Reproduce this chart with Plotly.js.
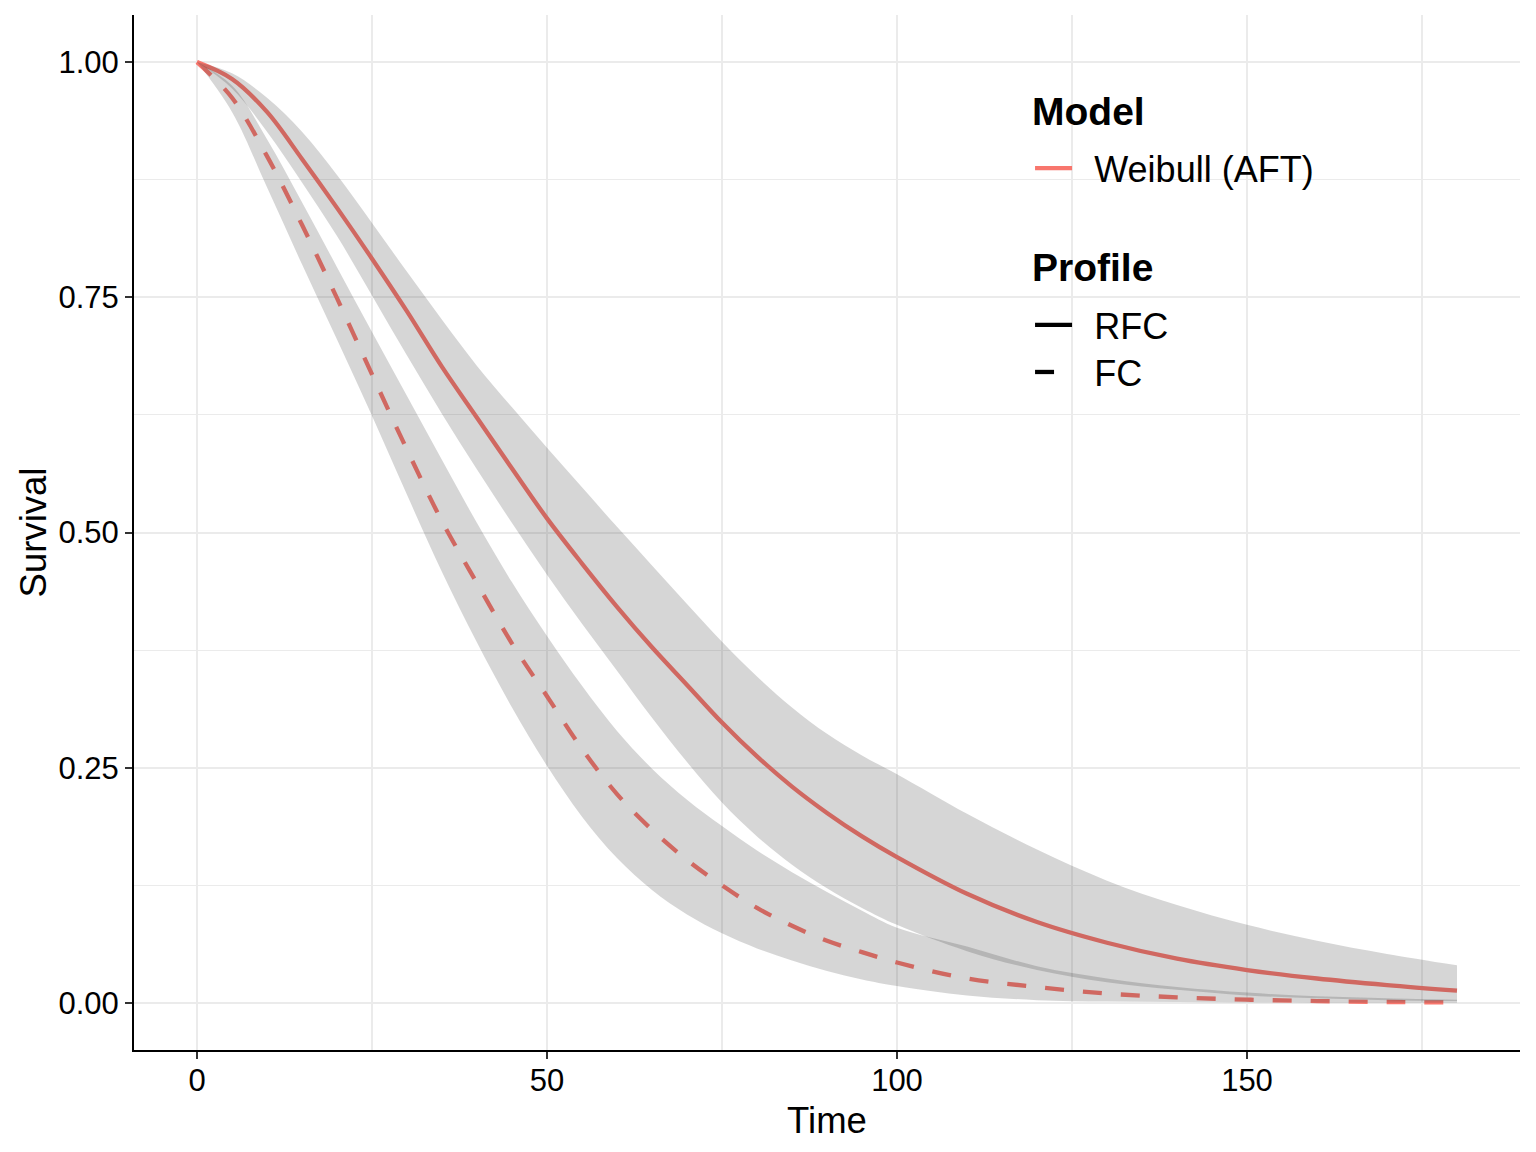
<!DOCTYPE html>
<html>
<head>
<meta charset="utf-8">
<script src="https://cdn.plot.ly/plotly-3.0.1.min.js"></script>
<style>html,body{margin:0;padding:0;background:#fff;}#chart{width:1536px;height:1152px;}</style>
</head>
<body>
<div id="chart"></div>
<script>
// ---- data ----
const time = [0,5,10,15,20,25,30,35,40,45,50,55,60,65,70,75,80,85,90,95,100,110,120,130,140,150,160,170,180];

const rfcSurv  = [1.000,0.982,0.947,0.897,0.845,0.791,0.735,0.676,0.622,0.568,0.515,0.467,0.421,0.378,0.338,0.298,0.262,0.230,0.202,0.177,0.155,0.116,0.086,0.064,0.047,0.035,0.026,0.019,0.013];
const rfcLower = [1.000,0.972,0.926,0.872,0.815,0.752,0.688,0.626,0.567,0.510,0.455,0.403,0.353,0.303,0.256,0.213,0.177,0.147,0.122,0.101,0.083,0.055,0.035,0.022,0.014,0.008,0.005,0.003,0.002];
const rfcUpper = [1.000,0.988,0.962,0.926,0.880,0.829,0.777,0.726,0.677,0.633,0.590,0.548,0.506,0.465,0.424,0.384,0.347,0.314,0.286,0.263,0.243,0.201,0.163,0.130,0.104,0.083,0.066,0.052,0.040];

const fcSurv  = [1.000,0.962,0.900,0.827,0.749,0.668,0.588,0.512,0.446,0.382,0.326,0.270,0.222,0.184,0.152,0.125,0.101,0.082,0.066,0.054,0.043,0.026,0.017,0.010,0.006,0.0035,0.002,0.001,0.0005];
const fcLower = [1.000,0.947,0.867,0.785,0.705,0.624,0.540,0.458,0.383,0.314,0.252,0.198,0.154,0.120,0.094,0.074,0.058,0.045,0.034,0.025,0.018,0.008,0.003,0.0015,0.001,0.0005,0.0003,0.0002,0.0001];
const fcUpper = [1.000,0.975,0.918,0.851,0.782,0.713,0.645,0.577,0.510,0.447,0.390,0.337,0.289,0.249,0.216,0.188,0.162,0.139,0.118,0.098,0.080,0.060,0.039,0.026,0.017,0.011,0.007,0.005,0.0035];

const modelName = "Weibull (AFT)";
const profiles = ["RFC", "FC"];
const legendTitles = ["Model", "Profile"];
const xTicks = [0, 50, 100, 150];
const yTicks = [0, 0.25, 0.5, 0.75, 1];
const yTickText = ["0.00", "0.25", "0.50", "0.75", "1.00"];

// ---- styling ----
const RED = "#F8766D";
const RIBBON = "rgba(51,51,51,0.2)";
const FONT = "Liberation Sans, Arial, Helvetica, sans-serif";
const LW = 4.3;
const DASH = "19px,19px";
const SPL = {shape: "spline", smoothing: 1};
const PAD = "\u00a0\u2009"; // gap between legend key and label

function band(lo, hi) {
  return [
    {x: time, y: lo, mode: "lines", line: Object.assign({width: 0, color: "rgba(0,0,0,0)"}, SPL), showlegend: false, hoverinfo: "skip"},
    {x: time, y: hi, mode: "lines", fill: "tonexty", fillcolor: RIBBON, line: Object.assign({width: 0, color: "rgba(0,0,0,0)"}, SPL), showlegend: false, hoverinfo: "skip"}
  ];
}

const traces = [
  {x: time, y: rfcSurv, mode: "lines", line: Object.assign({color: RED, width: LW}, SPL), showlegend: false, hoverinfo: "skip"},
  {x: time, y: fcSurv, mode: "lines", line: Object.assign({color: RED, width: LW, dash: DASH}, SPL), showlegend: false, hoverinfo: "skip"}
].concat(band(rfcLower, rfcUpper), band(fcLower, fcUpper), [
  // legend entries
  {x: [null], y: [null], mode: "lines", name: PAD + modelName, line: {color: RED, width: LW}, legend: "legend"},
  {x: [null], y: [null], mode: "lines", name: PAD + profiles[0], line: {color: "#000000", width: LW}, legend: "legend2"},
  {x: [null], y: [null], mode: "lines", name: PAD + profiles[1], line: {color: "#000000", width: LW, dash: DASH}, legend: "legend3"}
]);

function legendBox(yPaper) {
  return {
    font: {family: FONT, size: 36, color: "#000000"},
    x: 0.6465, y: yPaper, xanchor: "left", yanchor: "middle",
    bgcolor: "rgba(0,0,0,0)", borderwidth: 0, itemwidth: 37
  };
}

const layout = {
  width: 1536, height: 1152,
  margin: {l: 134, r: 16, t: 15, b: 102},
  paper_bgcolor: "#ffffff", plot_bgcolor: "#ffffff",
  font: {family: FONT, color: "#000000"},
  showlegend: true,
  xaxis: {
    range: [-9, 189],
    tickvals: xTicks, ticktext: xTicks.map(String),
    showgrid: true, gridcolor: "#EBEBEB", gridwidth: 2,
    minor: {dtick: 25, tick0: 0, showgrid: true, gridcolor: "#EBEBEB", gridwidth: 1.2},
    zeroline: false,
    showline: true, linecolor: "#000000", linewidth: 2,
    ticks: "outside", ticklen: 7, tickwidth: 2, tickcolor: "#333333",
    ticklabelstandoff: -5,
    tickfont: {family: FONT, size: 31, color: "#000000"},
    title: {text: "Time", font: {family: FONT, size: 36.5, color: "#000000"}, standoff: 10}
  },
  yaxis: {
    range: [-0.05, 1.05],
    tickvals: yTicks, ticktext: yTickText,
    showgrid: true, gridcolor: "#EBEBEB", gridwidth: 2,
    minor: {dtick: 0.125, tick0: 0, showgrid: true, gridcolor: "#EBEBEB", gridwidth: 1.2},
    zeroline: false,
    showline: true, linecolor: "#000000", linewidth: 2,
    ticks: "outside", ticklen: 7, tickwidth: 2, tickcolor: "#333333",
    tickfont: {family: FONT, size: 31, color: "#000000"},
    title: {text: "Survival", font: {family: FONT, size: 36.5, color: "#000000"}, standoff: 1}
  },
  legend: legendBox(0.852),
  legend2: legendBox(0.7005),
  legend3: legendBox(0.655),
  annotations: [
    {text: "<b>" + legendTitles[0] + "</b>", xref: "paper", yref: "paper", x: 0.6465, y: 0.9063, xanchor: "left", yanchor: "middle", showarrow: false, font: {family: FONT, size: 39, color: "#000000"}},
    {text: "<b>" + legendTitles[1] + "</b>", xref: "paper", yref: "paper", x: 0.6465, y: 0.7556, xanchor: "left", yanchor: "middle", showarrow: false, font: {family: FONT, size: 39, color: "#000000"}}
  ]
};

Plotly.newPlot("chart", traces, layout, {displayModeBar: false, staticPlot: true});
</script>
</body>
</html>
